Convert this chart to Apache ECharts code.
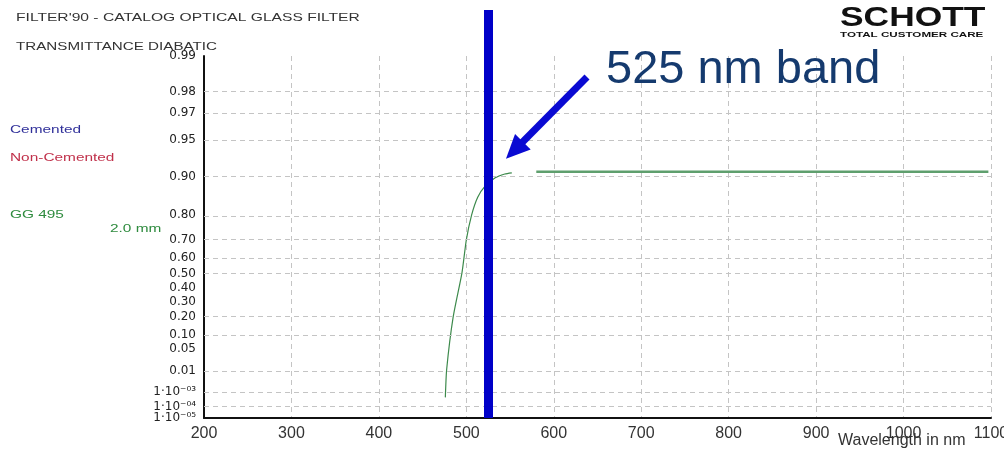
<!DOCTYPE html>
<html><head><meta charset="utf-8">
<script src="https://cdn.jsdelivr.net/npm/echarts@6/dist/echarts.min.js"></script>
<style>html,body{margin:0;padding:0;background:#fff}#c{width:1004px;height:449px}</style>
</head><body><div id="c"></div>
<script>
// ---- data ----
const xMin = 200, xMax = 1100, xStep = 100;
const yTickT = [0.99, 0.98, 0.97, 0.95, 0.90, 0.80, 0.70, 0.60, 0.50, 0.40, 0.30, 0.20, 0.10, 0.05, 0.01, 1e-3, 1e-4, 1e-5];
const yTickLabels = ['0.99', '0.98', '0.97', '0.95', '0.90', '0.80', '0.70', '0.60', '0.50', '0.40', '0.30', '0.20', '0.10', '0.05', '0.01', '1·10⁻⁰³', '1·10⁻⁰⁴', '1·10⁻⁰⁵'];
const gridT = [0.98, 0.97, 0.95, 0.90, 0.80, 0.70, 0.60, 0.50, 0.20, 0.10, 0.01, 1e-3, 1e-4];
const curveNm = [476, 477.5, 485, 495, 500, 506, 513, 521, 533, 544, 552];
const curveT = [4.5e-4, 0.0113, 0.201, 0.505, 0.698, 0.801, 0.855, 0.880, 0.898, 0.905, 0.907];
const flatNm = [580, 1097];
const flatT = [0.909, 0.909];
const bandNm = 525;
const arrowNm = [638, 555];
const arrowT = [0.985, 0.939];

// diabatic scale: log10(log10(1/T))
const dia = T => Math.log10(-Math.log10(T));
const yVals = yTickT.map(dia);
const yMin = yVals[0], yMax = yVals[yVals.length - 1];

function yFmt(v) {
  let best = 0, bd = Infinity;
  yVals.forEach((y, i) => { const e = Math.abs(y - v); if (e < bd) { bd = e; best = i; } });
  return yTickLabels[best];
}

const chart = echarts.init(document.getElementById('c'));
const dashed = { color: '#c4c4c4', width: 1, type: [5, 4] };
const yLabelStyle = { formatter: yFmt, margin: 8, showMaxLabel: true, showMinLabel: true, hideOverlap: false,
  fontSize: 12, color: '#222', fontFamily: 'DejaVu Sans, sans-serif' };
const option = {
  animation: false,
  backgroundColor: '#fff',
  grid: [
    { left: 204, right: 13, top: 56, bottom: 31, outerBoundsMode: 'none', containLabel: false },
    { left: 204, right: 13, top: 10, bottom: 31, outerBoundsMode: 'none', containLabel: false }
  ],
  xAxis: [{
    type: 'value', min: xMin, max: xMax, interval: xStep, gridIndex: 0,
    axisLine: { show: true, onZero: false, lineStyle: { color: '#111', width: 2 } },
    axisTick: { show: false },
    axisLabel: { color: '#333', fontSize: 16, fontFamily: 'Liberation Sans, Arial, sans-serif', margin: 8, formatter: v => String(v), showMaxLabel: true, showMinLabel: true },
    splitLine: { show: true, lineStyle: dashed }
  }, {
    type: 'value', min: xMin, max: xMax, gridIndex: 1, show: false
  }],
  yAxis: [{
    type: 'value', inverse: true, min: yMin, max: yMax, gridIndex: 0, position: 'left',
    axisLine: { show: true, onZero: false, lineStyle: { color: '#111', width: 2 } },
    axisTick: { show: false },
    splitLine: { show: false },
    axisLabel: Object.assign({ customValues: yVals.slice(0, -1) }, yLabelStyle)
  }, {
    type: 'value', min: 0, max: 1, gridIndex: 1, show: false
  }, {
    type: 'value', inverse: true, min: yMin, max: yMax, gridIndex: 0, position: 'left', offset: 0,
    axisLine: { show: false, onZero: false },
    axisTick: { show: false },
    splitLine: { show: false },
    axisLabel: Object.assign({ customValues: yVals.slice(-1) }, yLabelStyle)
  }],
  series: [
    {
      type: 'line', xAxisIndex: 0, yAxisIndex: 0, data: [], z: 1, silent: true,
      markLine: {
        silent: true, symbol: 'none', label: { show: false },
        lineStyle: dashed,
        data: gridT.map(t => ({ yAxis: dia(t) }))
      }
    },
    {
      type: 'line', xAxisIndex: 0, yAxisIndex: 0, z: 3, showSymbol: false, smooth: 0.2,
      lineStyle: { color: '#3d8a4c', width: 1.2 },
      data: curveNm.map((x, i) => [x, dia(curveT[i])])
    },
    {
      type: 'line', xAxisIndex: 0, yAxisIndex: 0, z: 3, showSymbol: false,
      lineStyle: { color: '#5f9f6e', width: 2.5 },
      data: flatNm.map((x, i) => [x, dia(flatT[i])])
    },
    {
      type: 'line', xAxisIndex: 1, yAxisIndex: 1, z: 5, data: [], silent: true,
      markLine: {
        silent: true, symbol: 'none', label: { show: false },
        lineStyle: { color: '#0000c8', width: 9, type: 'solid' },
        data: [{ xAxis: bandNm }]
      }
    },
    {
      type: 'line', xAxisIndex: 0, yAxisIndex: 0, z: 6, data: [], silent: true,
      markLine: {
        silent: true, symbol: ['none', 'triangle'], symbolSize: [22, 24], label: { show: false },
        itemStyle: { color: '#0a0ad2' },
        lineStyle: { color: '#0a0ad2', width: 7, type: 'solid' },
        data: [[{ coord: [arrowNm[0], dia(arrowT[0])] }, { coord: [arrowNm[1], dia(arrowT[1])] }]]
      }
    }
  ],
  graphic: [
    { type: 'text', x: 16, y: 18, scaleX: 1.42, style: { text: "FILTER'90 - CATALOG OPTICAL GLASS FILTER", font: '11px Liberation Sans, Arial', fill: '#333', verticalAlign: 'middle' } },
    { type: 'text', x: 16, y: 47, scaleX: 1.38, style: { text: 'TRANSMITTANCE DIABATIC', font: '11px Liberation Sans, Arial', fill: '#333', verticalAlign: 'middle' } },
    { type: 'text', x: 10, y: 130, scaleX: 1.4, style: { text: 'Cemented', font: '11px Liberation Sans, Arial', fill: '#30309a', verticalAlign: 'middle' } },
    { type: 'text', x: 10, y: 158, scaleX: 1.4, style: { text: 'Non-Cemented', font: '11px Liberation Sans, Arial', fill: '#c0304a', verticalAlign: 'middle' } },
    { type: 'text', x: 10, y: 215, scaleX: 1.4, style: { text: 'GG 495', font: '11px Liberation Sans, Arial', fill: '#2e8b3e', verticalAlign: 'middle' } },
    { type: 'text', x: 110, y: 229, scaleX: 1.4, style: { text: '2.0 mm', font: '11px Liberation Sans, Arial', fill: '#2e8b3e', verticalAlign: 'middle' } },
    { type: 'text', x: 838, y: 441, style: { text: 'Wavelength in nm', font: '16px Liberation Sans, Arial', fill: '#333', verticalAlign: 'middle' } },
    { type: 'text', x: 840, y: 19, scaleX: 1.31, style: { text: 'SCHOTT', font: 'bold 27px Liberation Sans, Arial', fill: '#111', verticalAlign: 'middle' } },
    { type: 'text', x: 840, y: 35, scaleX: 1.55, style: { text: 'TOTAL CUSTOMER CARE', font: 'bold 7.5px Liberation Sans, Arial', fill: '#111', verticalAlign: 'middle' } },
    { type: 'text', x: 606, y: 70, z: 10, style: { text: '525 nm band', font: '47px Liberation Sans, Arial', fill: '#153a6e', verticalAlign: 'middle' } }
  ]
};
chart.setOption(option);
</script>
</body></html>
